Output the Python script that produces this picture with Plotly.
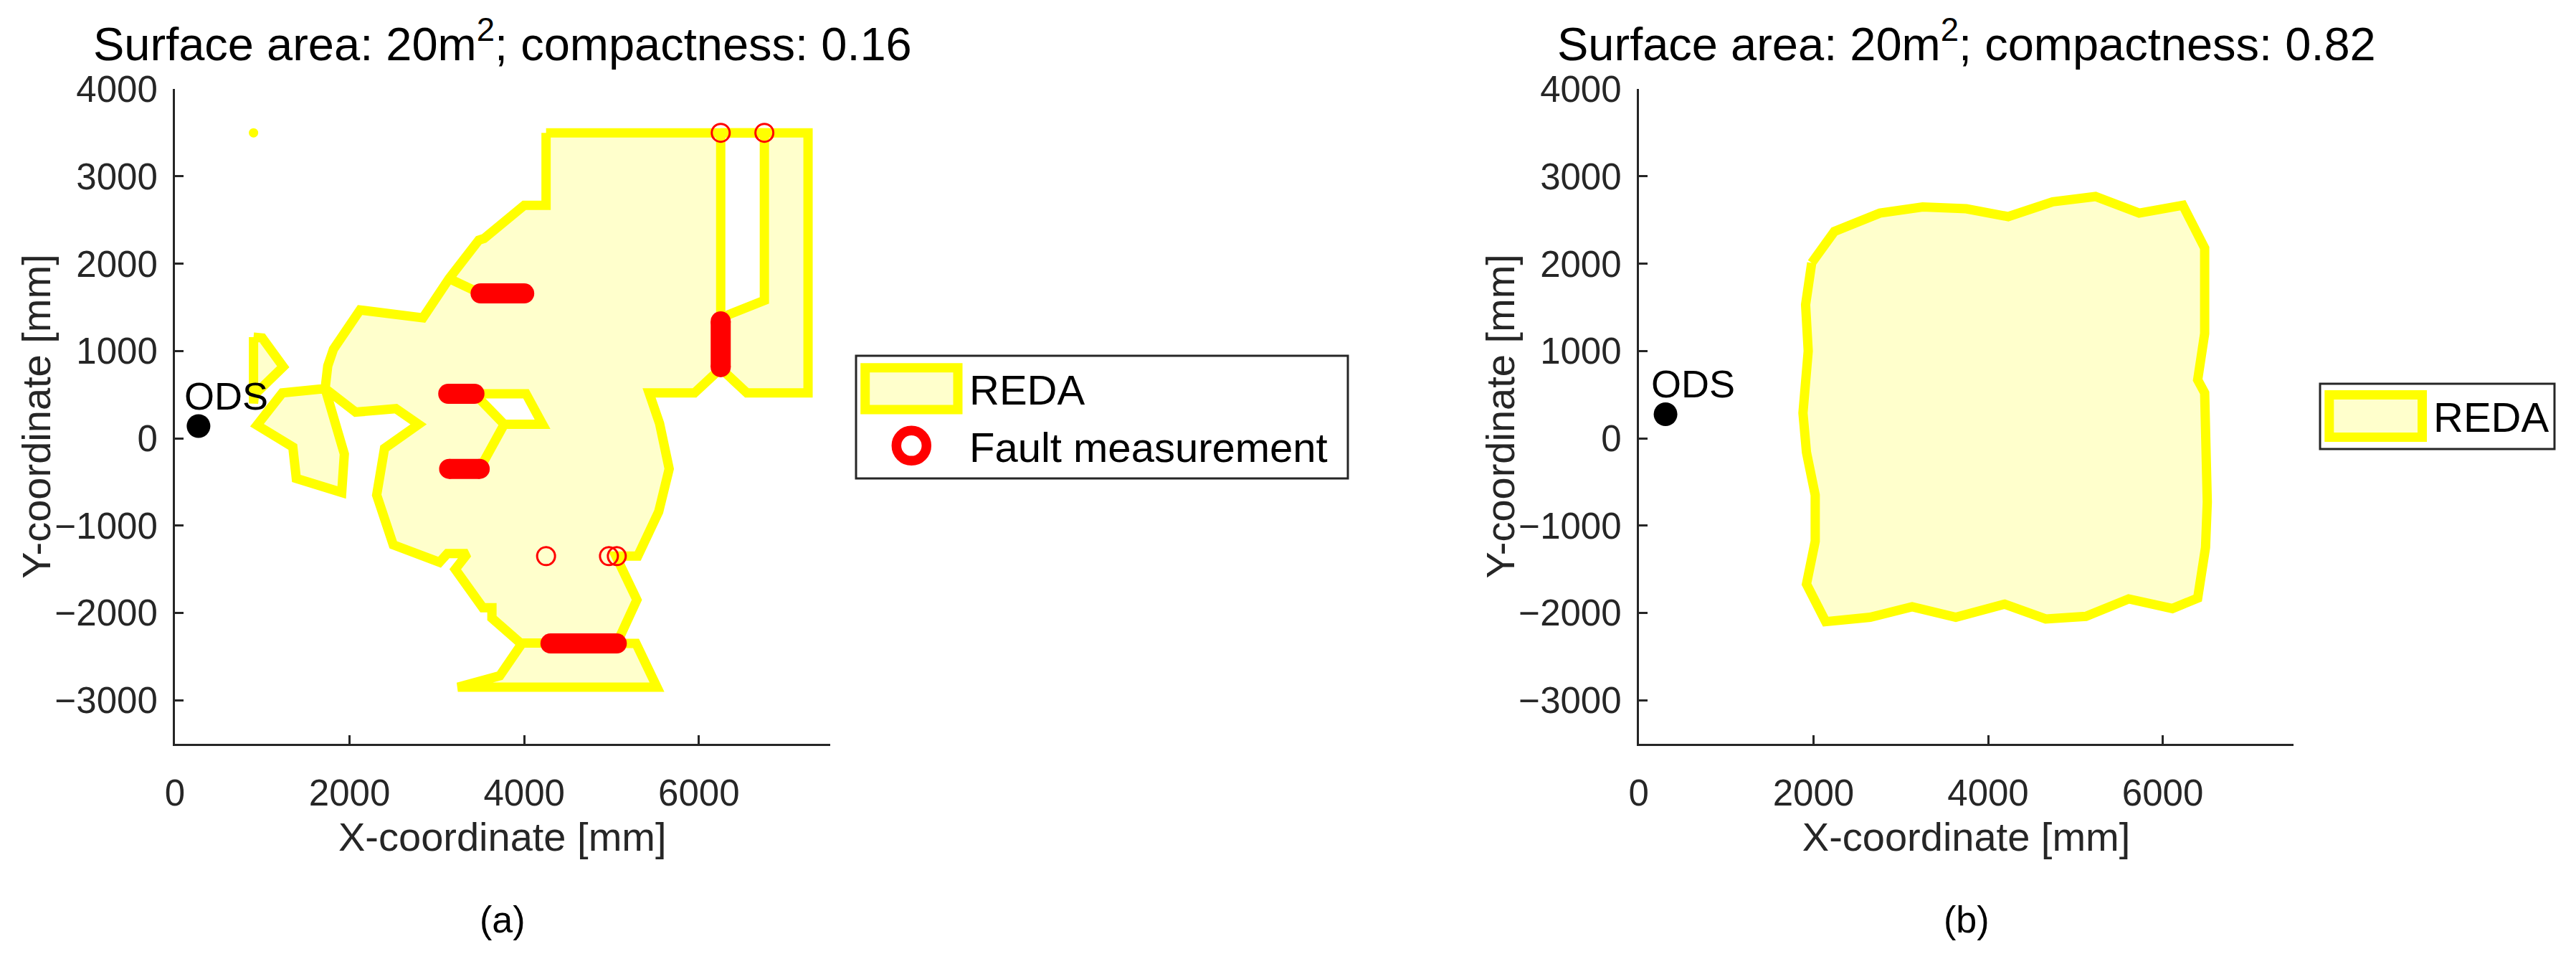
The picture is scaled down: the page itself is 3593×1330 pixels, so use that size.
import plotly.graph_objects as go

# ---------------- data (mm) ----------------
# panel (a): REDA outline, main body (closed ring)
reda_a_x = [4250, 7250, 7250, 6550, 6250, 5950, 5430, 5550, 5660, 5540,
            5300, 5050, 5290, 5110, 5060, 5280, 5520, 3240, 3720, 3960,
            3950, 3630, 3630, 3525, 3210, 3350, 3120, 3030, 2500, 2310,
            2400, 2790, 2530, 2070, 1720, 1940, 1910, 1390, 1350, 940,
            1230, 1720, 1750, 1815, 2120, 2840, 3140, 3480, 3540, 4000,
            4250, 4250]
reda_a_y = [3500, 3500, 520, 520, 800, 520, 520, 170, -350, -840,
            -1350, -1350, -1850, -2270, -2350, -2350, -2850, -2850, -2720, -2370,
            -2340, -2060, -1940, -1940, -1500, -1320, -1320, -1420, -1220, -650,
            -115, 160, 340, 300, 570, -180, -620, -460, -100, 150,
            520, 570, 830, 1020, 1470, 1380, 1830, 2270, 2290, 2670,
            2670, 3500]
# small detached piece left of the body
tri_a_x = [900, 1000, 1240, 910, 900, 900]
tri_a_y = [1160, 1150, 820, 500, 400, 1160]
# holes inside the body
notch_a_x = [6250, 6750, 6750, 6250, 6250]
notch_a_y = [3500, 3500, 1580, 1380, 3500]
pocket_a_x = [3430, 4020, 4210, 3770, 3430]
pocket_a_y = [510, 510, 160, 160, 510]
# interior edges (no area)
inner_a_x = [3140, 3500, None, 3770, 3490, None, 6250, 6250, None, 3950, 5060]
inner_a_y = [1830, 1660, None, 160, -350, None, 800, 1380, None, -2345, -2345]
# single stray REDA cell
stray_a_x = [900]
stray_a_y = [3500]

# fault measurements: dense runs (start/end) and single points
run_x = [3500, 4000, None, 3130, 3430, None, 3140, 3490, None, 4300, 5060, None, 6250, 6250]
run_y = [1660, 1660, None, 510, 510, None, -350, -350, None, -2350, -2350, None, 815, 1340]
fault_x = [6250, 6750, 4250, 4970, 5060]
fault_y = [3500, 3500, -1350, -1350, -1350]

# panel (b): REDA outline
reda_b_x = [1980, 2240, 2760, 3250, 3750, 4230, 4740, 5230, 5730, 6230,
            6480, 6480, 6400, 6480, 6510, 6490, 6400, 6110, 5610, 5120,
            4660, 4190, 3630, 3130, 2650, 2140, 1920, 2020, 2020, 1920,
            1880, 1940, 1910, 1980]
reda_b_y = [2010, 2370, 2580, 2650, 2630, 2540, 2710, 2770, 2580, 2670,
            2180, 1200, 670, 520, -730, -1250, -1830, -1950, -1840, -2040,
            -2070, -1900, -2050, -1930, -2050, -2100, -1670, -1180, -650, -160,
            290, 1000, 1530, 2010]

# ODS sensor position
ods_a = (270, 140)
ods_b = (306, 276)

titles = ["Surface area: 20m<sup>2</sup>; compactness: 0.16",
          "Surface area: 20m<sup>2</sup>; compactness: 0.82"]
panel_labels = ["(a)", "(b)"]
x_ticks = [0, 2000, 4000, 6000]
y_ticks = [-3000, -2000, -1000, 0, 1000, 2000, 3000, 4000]

# ---------------- style ----------------
W, H = 3593, 1330
FONT = "Liberation Sans, Arial, sans-serif"
YELLOW = "#FFFF00"
FILL = "#FFFFCC"
RED = "#FF0000"
AXIS = "#262626"
EDGE_W = 13

dom_a = [244 / W, 1157.5 / W]
dom_b = [2285.8 / W, 3199.3 / W]
dom_y = [1 - 1037 / H, 1 - 124.3 / H]


def join(*parts):
    out = []
    for p in parts:
        if out:
            out.append(None)
        out.extend(p)
    return out


def fx(px):
    return px / W


def fy(py):
    return 1 - py / H


fig = go.Figure()

# ---- panel (a) ----
fig.add_trace(go.Scatter(x=join(reda_a_x, tri_a_x), y=join(reda_a_y, tri_a_y),
                         fill="toself", fillcolor=FILL, mode="lines",
                         line=dict(width=0), hoverinfo="skip", showlegend=False))
fig.add_trace(go.Scatter(x=join(notch_a_x, pocket_a_x), y=join(notch_a_y, pocket_a_y),
                         fill="toself", fillcolor="white", mode="lines",
                         line=dict(width=0), hoverinfo="skip", showlegend=False))
fig.add_trace(go.Scatter(x=join(reda_a_x, tri_a_x, notch_a_x, pocket_a_x, inner_a_x),
                         y=join(reda_a_y, tri_a_y, notch_a_y, pocket_a_y, inner_a_y),
                         mode="lines", line=dict(color=YELLOW, width=EDGE_W),
                         name="REDA", showlegend=False))
fig.add_trace(go.Scatter(x=stray_a_x, y=stray_a_y, mode="markers",
                         marker=dict(color=YELLOW, size=EDGE_W), showlegend=False))
fig.add_trace(go.Scatter(x=run_x, y=run_y, mode="lines+markers",
                         line=dict(color=RED, width=28),
                         marker=dict(color=RED, size=28), showlegend=False))
fig.add_trace(go.Scatter(x=fault_x, y=fault_y, mode="markers", name="Fault measurement",
                         marker=dict(symbol="circle-open", size=25, color=RED,
                                     line=dict(width=3, color=RED)),
                         showlegend=False))
fig.add_trace(go.Scatter(x=[ods_a[0]], y=[ods_a[1]], mode="markers",
                         marker=dict(color="black", size=33), showlegend=False))

# ---- panel (b) ----
fig.add_trace(go.Scatter(x=reda_b_x, y=reda_b_y, fill="toself", fillcolor=FILL,
                         mode="lines", line=dict(color=YELLOW, width=EDGE_W),
                         name="REDA", showlegend=False, xaxis="x2", yaxis="y2"))
fig.add_trace(go.Scatter(x=[ods_b[0]], y=[ods_b[1]], mode="markers",
                         marker=dict(color="black", size=33), showlegend=False,
                         xaxis="x2", yaxis="y2"))

axis_common = dict(showline=True, linecolor=AXIS, linewidth=3, ticks="inside",
                   ticklen=12, tickwidth=3, tickcolor=AXIS, showgrid=False,
                   zeroline=False, automargin=False, tickfont=dict(size=51, color=AXIS))
xax = dict(axis_common, range=[0, 7500], tickvals=x_ticks, ticklabelstandoff=22,
           title=dict(text="X-coordinate [mm]", font=dict(size=56, color=AXIS), standoff=14))
yax = dict(axis_common, range=[-3500, 4000], tickvals=y_ticks, domain=dom_y,
           ticklabelstandoff=11)

annotations = []
for dom, title, lab in zip([dom_a, dom_b], titles, panel_labels):
    cx = (dom[0] + dom[1]) / 2
    annotations.append(dict(x=cx, y=fy(57), xref="paper", yref="paper", text=title,
                            showarrow=False, xanchor="center", yanchor="middle",
                            font=dict(size=65, color="black")))
    annotations.append(dict(x=cx, y=fy(1282), xref="paper", yref="paper", text=lab,
                            showarrow=False, xanchor="center", yanchor="middle",
                            font=dict(size=52, color="black")))
# y-axis titles, set just left of the tick labels as in the original
for dom in (dom_a, dom_b):
    annotations.append(dict(x=dom[0] - fx(193), y=(dom_y[0] + dom_y[1]) / 2,
                            xref="paper", yref="paper", text="Y-coordinate [mm]",
                            textangle=-90, showarrow=False, xanchor="center",
                            yanchor="middle", font=dict(size=56, color=AXIS)))
for (ox, oy), xr, yr in [(ods_a, "x", "y"), (ods_b, "x2", "y2")]:
    annotations.append(dict(x=ox, y=oy, xref=xr, yref=yr, text="ODS", showarrow=False,
                            xanchor="left", yanchor="middle", xshift=-22, yshift=42,
                            font=dict(size=54, color="black")))

# hand-built legends (plotly caps legend symbol sizes far below this scale)
shapes = []
legend_a = dict(box=(1194, 496, 1880, 667), sym=(1206.7, 512.7, 1336, 571),
                ring=(1271.3, 621.3, 21), text_x=1350,
                items=[("REDA", 543.4), ("Fault measurement", 623.5)])
legend_b = dict(box=(3236, 535, 3563, 626), sym=(3248.8, 550.5, 3378.5, 609.5),
                ring=None, text_x=3391.7, items=[("REDA", 581.3)])
for lg in (legend_a, legend_b):
    x0, y0, x1, y1 = lg["box"]
    shapes.append(dict(type="rect", xref="paper", yref="paper", x0=fx(x0), x1=fx(x1),
                       y0=fy(y1), y1=fy(y0), line=dict(color=AXIS, width=3),
                       fillcolor="white", layer="above"))
    x0, y0, x1, y1 = lg["sym"]
    shapes.append(dict(type="rect", xref="paper", yref="paper", x0=fx(x0), x1=fx(x1),
                       y0=fy(y1), y1=fy(y0), line=dict(color=YELLOW, width=EDGE_W),
                       fillcolor=FILL, layer="above"))
    if lg["ring"]:
        cx, cy, r = lg["ring"]
        shapes.append(dict(type="circle", xref="paper", yref="paper",
                           x0=fx(cx - r), x1=fx(cx + r), y0=fy(cy + r), y1=fy(cy - r),
                           line=dict(color=RED, width=13.5), layer="above"))
    for txt, ty in lg["items"]:
        annotations.append(dict(x=fx(lg["text_x"]), y=fy(ty), xref="paper", yref="paper",
                                text=txt, showarrow=False, xanchor="left", yanchor="middle",
                                font=dict(size=58, color="black")))

fig.update_layout(
    width=W, height=H, autosize=False,
    margin=dict(l=0, r=0, t=0, b=0),
    paper_bgcolor="white", plot_bgcolor="white",
    font=dict(family=FONT, color=AXIS),
    xaxis=dict(xax, domain=dom_a, anchor="y"),
    yaxis=dict(yax, anchor="x"),
    xaxis2=dict(xax, domain=dom_b, anchor="y2"),
    yaxis2=dict(yax, anchor="x2"),
    annotations=annotations,
    shapes=shapes,
    showlegend=False,
)

fig.write_html("out.html", config={"displayModeBar": False},
               post_script="document.body.style.margin='0';")
